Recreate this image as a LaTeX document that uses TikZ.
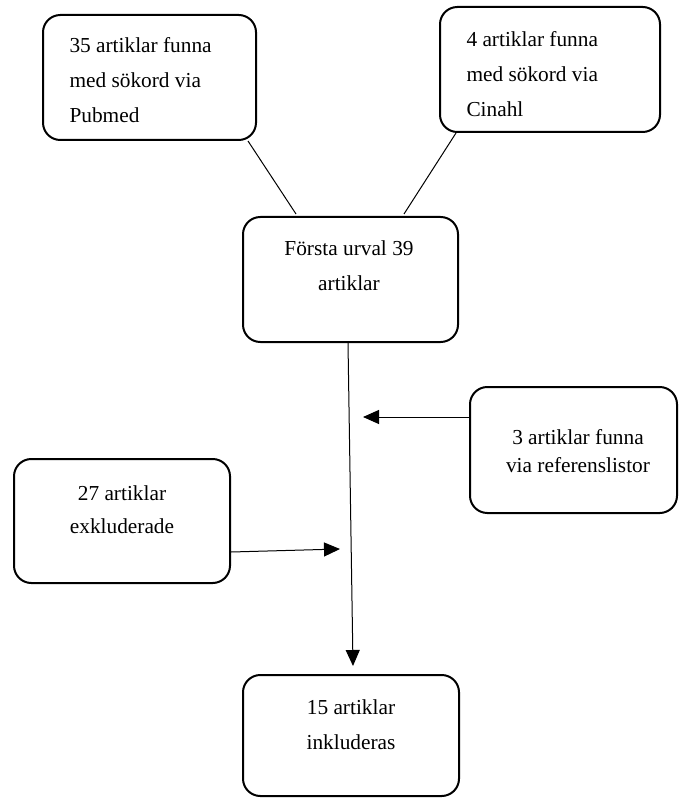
\documentclass[tikz,border=0pt]{standalone}
\usepackage{fontspec}
\setmainfont{Liberation Serif}
\usetikzlibrary{arrows.meta,calc}

\tikzset{every picture/.style={line width=0.75pt}}
\tikzset{
  box/.style={draw, rounded corners=13pt, line width=1.5pt, inner sep=0pt},
  txt/.style={inner sep=0pt, font=\fontsize{16}{26.25}\selectfont},
  link/.style={line width=0.75pt},
  arr/.style={line width=0.75pt, -{Triangle[length=12pt,width=10.5pt]}}
}

\begin{document}
\begin{tikzpicture}[x=0.75pt,y=0.75pt,yscale=-1,xscale=1]
				\useasboundingbox (0,0) rectangle (678,798);
				%Shape: Rounded Rect
				\node [box, minimum width=159.75pt, minimum height=93.75pt] (pubmed) at (149.5,77.5) {};
				%Shape: Rounded Rect
				\node [box, minimum width=165pt, minimum height=93.75pt] (cinahl) at (550,69.5) {};
				%Shape: Rounded Rect
				\node [box, minimum width=161.25pt, minimum height=93.75pt] (urval) at (350.5,279.5) {};
				%Shape: Rounded Rect
				\node [box, minimum width=155.25pt, minimum height=94.5pt] (reflist) at (573.5,450) {};
				%Shape: Rounded Rect
				\node [box, minimum width=162pt, minimum height=93pt] (exkl) at (122,521) {};
				%Shape: Rounded Rect
				\node [box, minimum width=162pt, minimum height=90.75pt] (inkl) at (351,735.5) {};
				% Text Node
				\node [txt, anchor=west, align=left] (pubmedtxt) at (69,80) {35 artiklar funna\\med sökord via\\Pubmed};
				% Text Node
				\node [txt, anchor=west, align=left] (cinahltxt) at (466,74.5) {4 artiklar funna\\med sökord via\\Cinahl};
				% Text Node
				\node [txt, align=center] (urvaltxt) at (349,265.5) {Första urval 39\\artiklar};
				% Text Node
				\node [txt, align=center, font=\fontsize{16}{21}\selectfont] (reflisttxt) at (578,451) {3 artiklar funna\\via referenslistor};
				% Text Node
				\node [txt, align=center, font=\fontsize{16}{24.75}\selectfont] (exkltxt) at (122,509.5) {27 artiklar\\exkluderade};
				% Text Node
				\node [txt, align=center] (inkltxt) at (351,724.5) {15 artiklar\\inkluderas};
				%Straight Lines
				\draw [link] ($(pubmed.south east)+(-9,0)$) -- ($(urval.north west)+(54,-2)$);
				%Straight Lines
				\draw [link] ($(cinahl.south west)+(17,0)$) -- ($(urval.north east)+(-55,-2)$);
				%Straight Lines
				\draw [arr] ($(urval.south)+(-2.5,0)$) -- ($(inkl.north)+(2,-8)$);
				%Straight Lines
				\coordinate (reftip) at (363,417);
				\draw [arr] ($(reflist.west)+(0,-33)$) -- (reftip);
				%Straight Lines
				\coordinate (exkltip) at (340,549);
				\draw [arr] ($(exkl.east)+(0,31)$) -- (exkltip);
\end{tikzpicture}
\end{document}
